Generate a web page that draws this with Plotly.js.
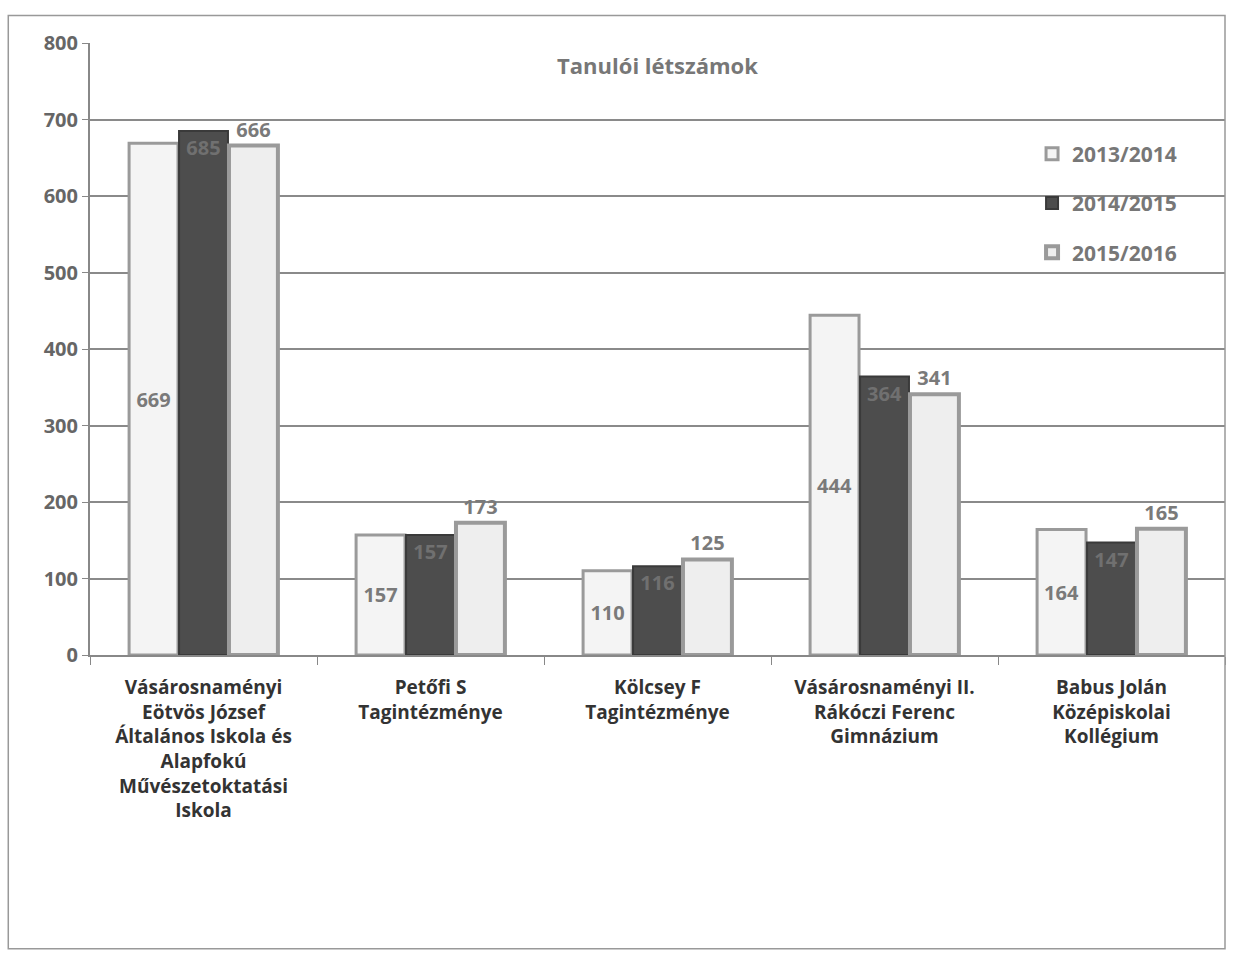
<!DOCTYPE html>
<html><head><meta charset="utf-8">
<script src="https://cdn.plot.ly/plotly-3.0.1.min.js"></script>
<style>html,body{margin:0;padding:0;background:#fff}#c{width:1233px;height:974px}</style>
</head><body><div id="c"></div>
<script>
const categories = [
  "Vásárosnaményi<br>Eötvös József<br>Általános Iskola és<br>Alapfokú<br>Művészetoktatási<br>Iskola",
  "Petőfi S<br>Tagintézménye",
  "Kölcsey F<br>Tagintézménye",
  "Vásárosnaményi II.<br>Rákóczi Ferenc<br>Gimnázium",
  "Babus Jolán<br>Középiskolai<br>Kollégium"
];
const seriesNames = ["2013/2014", "2014/2015", "2015/2016"];
const v2013 = [669, 157, 110, 444, 164];
const v2014 = [685, 157, 116, 364, 147];
const v2015 = [666, 173, 125, 341, 165];
const yTicks = [0,100,200,300,400,500,600,700,800];

const font = "'Open Sans', 'Liberation Sans', sans-serif";
const labelFont = {family: font, size: 20, color: '#7a7a7a', weight:'bold'};

const traces = [
  {type:'bar', name:seriesNames[0], legendgroup:'a', x:categories, y:v2013,
   marker:{color:'#f4f4f4', line:{color:'#9a9a9a', width:3}},
   text:v2013.map(String), textposition:'inside', insidetextanchor:'middle',
   textfont:labelFont, constraintext:'none', cliponaxis:false},
  {type:'bar', name:seriesNames[1], legendgroup:'b', x:categories, y:v2014,
   marker:{color:'#4d4d4d', line:{color:'#3a3a3a', width:2}},
   text:v2014.map(String), textposition:'inside', insidetextanchor:'end',
   textfont:{family:font, size:20, color:'#707070', weight:'bold'}, constraintext:'none', cliponaxis:false},
  {type:'bar', name:seriesNames[2], legendgroup:'c', x:categories, y:v2015,
   marker:{color:'#eeeeee', line:{color:'#9a9a9a', width:4}},
   text:v2015.map(String), textposition:'outside',
   textfont:labelFont, constraintext:'none', cliponaxis:false}
];

const layout = {
  width:1233, height:974,
  paper_bgcolor:'#ffffff', plot_bgcolor:'#ffffff',
  margin:{l:90, r:8, t:43, b:319},
  font:{family:font, color:'#555'},
  barmode:'group', bargap:0.34, bargroupgap:0.02,
  showlegend:true,
  legend:{x:0.83, y:0.852, xanchor:'left', yanchor:'top', bgcolor:'rgba(255,255,255,0)',
    font:{family:font, size:21, color:'#777', weight:'bold'}, tracegroupgap:19, itemwidth:30,
    traceorder:'grouped'},
  title:{text:'<b>Tanulói létszámok</b>', x:0.5, xref:'paper', y:0.94, yref:'container',
    font:{family:font, size:22, color:'#777'}},
  xaxis:{type:'category', showline:true, linecolor:'#888', linewidth:2,
    ticks:'outside', ticklen:8, tickcolor:'#888', tickson:'boundaries', ticklabelstandoff:14,
    tickfont:{family:font, size:19, color:'#333', weight:'bold'}, showgrid:false},
  yaxis:{range:[0,800], tickvals:yTicks, ticktext:yTicks.map(String),
    showline:true, linecolor:'#888', linewidth:2,
    ticks:'outside', ticklen:6, tickcolor:'#888',
    gridcolor:'#8a8a8a', gridwidth:2, zeroline:false,
    tickfont:{family:font, size:20, color:'#666', weight:'bold'}},
  shapes:[{type:'rect', xref:'paper', yref:'paper', x0:-0.072, x1:1.0, y0:-0.48, y1:1.045,
    line:{color:'#999', width:1.5}}]
};
Plotly.newPlot('c', traces, layout, {displayModeBar:false});
</script></body></html>
